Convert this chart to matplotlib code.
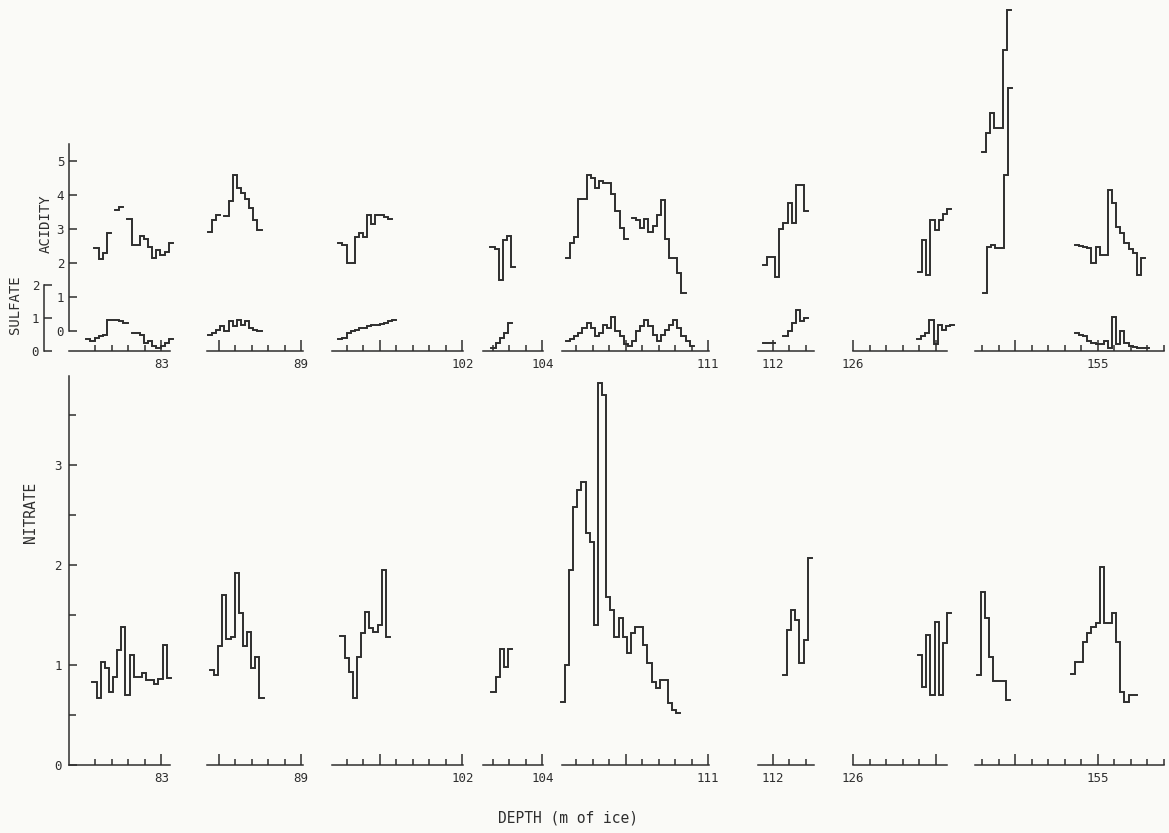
import numpy as np
import matplotlib
matplotlib.use("Agg")
import matplotlib.pyplot as plt
from matplotlib.ticker import FixedLocator, FixedFormatter, NullLocator

# ---------------- data ----------------
STEP = 0.025  # sample spacing along the core (m)

seg_labels = ["83", "89", "102", "104", "111", "112", "126", "155"]
seg_label_depth = [83.0, 89.0, 102.0, 104.0, 111.0, 112.0, 126.0, 155.0]
seg_start = [82.44, 88.43, 101.21, 103.64, 110.115, 111.91, 126.0, 154.255]
seg_end = [83.055, 89.01, 102.003, 104.003, 111.003, 112.25, 126.57, 155.4]
tick_first = [82.6, 88.5, 101.3, 103.7, 110.2, 112.0, 126.0, 154.3]
tick_last = [83.0, 89.0, 102.0, 104.0, 111.0, 112.2, 126.5, 155.4]

nan = np.nan

# nitrate (bottom panel)
nit_83_start, nit_83 = 82.582, [0.83, 0.67, 1.03, 0.97, 0.73, 0.88, 1.15, 1.38, 0.70, 1.10,
                                0.88, 0.88, 0.92, 0.85, 0.85, 0.81, 0.86, 1.20, 0.87]
nit_89_start, nit_89 = 88.448, [0.95, 0.90, 1.19, 1.70, 1.26, 1.28, 1.92, 1.52, 1.19, 1.33,
                                0.97, 1.08, 0.67]
nit_102_start, nit_102 = 101.261, [1.29, 1.07, 0.93, 0.67, 1.08, 1.32, 1.53, 1.37, 1.33, 1.40,
                                   1.95, 1.28]
nit_104_start, nit_104 = 103.691, [0.73, 0.88, 1.16, 0.98, 1.16]
nit_111_start, nit_111 = 110.108, [0.63, 1.00, 1.95, 2.58, 2.75, 2.83, 2.32, 2.23, 1.40, 3.82,
                                   3.70, 1.68, 1.55, 1.28, 1.47, 1.28, 1.12, 1.32, 1.38, 1.38,
                                   1.20, 1.02, 0.83, 0.77, 0.85, 0.85, 0.62, 0.55, 0.52]
nit_112_start, nit_112 = 112.061, [0.90, 1.35, 1.55, 1.45, 1.02, 1.25, 2.07]
nit_126_start, nit_126 = 126.394, [1.10, 0.78, 1.30, 0.70, 1.43, 0.70, 1.22, 1.52]
nit_155a_start, nit_155a = 154.267, [0.90, 1.73, 1.47, 1.08, 0.84, 0.84, 0.84, 0.65]
nit_155b_start, nit_155b = 154.836, [0.91, 1.03, 1.03, 1.23, 1.32, 1.38, 1.42, 1.98, 1.42,
                                     1.42, 1.52, 1.23, 0.73, 0.63, 0.70, 0.70]

# acidity (top panel)
acid_83_start, acid_83 = 82.594, [2.45, 2.12, 2.30, 2.87, nan, 3.55, 3.65, nan, 3.30, 2.52,
                                  2.52, 2.78, 2.72, 2.47, 2.14, 2.38, 2.23, 2.32, 2.58]
acid_89_start, acid_89 = 88.436, [2.90, 3.25, 3.42, nan, 3.39, 3.83, 4.60, 4.20, 4.06, 3.88,
                                  3.62, 3.25, 2.96]
acid_102_start, acid_102 = 101.248, [2.58, 2.52, 2.00, 2.00, 2.75, 2.87, 2.75, 3.42, 3.16, 3.42,
                                     3.40, 3.36, 3.30]
acid_104_start, acid_104 = 103.685, [2.47, 2.40, 1.50, 2.67, 2.80, 1.88]
acid_111_start, acid_111 = 110.139, [2.14, 2.58, 2.75, 3.88, 3.88, 4.60, 4.50, 4.20, 4.40, 4.35,
                                     4.35, 4.03, 3.54, 3.04, 2.72, nan, 3.33, 3.25, 3.04, 3.30,
                                     2.90, 3.10, 3.40, 3.85, 2.72, 2.14, 2.14, 1.70, 1.13]
acid_112_start, acid_112 = 111.939, [1.94, 2.17, 2.17, 1.60, 3.00, 3.19, 3.77, 3.19, 4.30, 4.30,
                                     3.54]
acid_126_start, acid_126 = 126.394, [1.74, 2.67, 1.65, 3.25, 2.96, 3.25, 3.45, 3.59]
acid_155a_start, acid_155a = 154.297, [5.27, 5.82, 6.41, 5.97, 5.97, 8.26, 9.44]
acid_155b_start, acid_155b = 154.303, [1.11, 2.48, 2.53, 2.43, 2.43, 4.59, 7.14]
acid_155c_start, acid_155c = 154.861, [2.53, 2.50, 2.47, 2.43, 2.00, 2.48, 2.24, 2.24, 4.15,
                                       3.76, 3.06, 2.87, 2.60, 2.40, 2.30, 1.66, 2.15]

# sulfate (top panel, lower scale)
sulf_83_start, sulf_83 = 82.545, [0.35, 0.30, 0.40, 0.45, 0.50, 0.94, 0.94, 0.94, 0.90, 0.85,
                                  nan, 0.55, 0.55, 0.50, 0.25, 0.30, 0.15, 0.10, 0.15, 0.25, 0.35]
sulf_89_start, sulf_89 = 88.436, [0.50, 0.55, 0.65, 0.75, 0.60, 0.90, 0.75, 0.95, 0.80, 0.90,
                                  0.70, 0.65, 0.60]
sulf_102_start, sulf_102 = 101.248, [0.35, 0.40, 0.55, 0.60, 0.65, 0.70, 0.70, 0.75, 0.80, 0.78,
                                     0.82, 0.85, 0.90, 0.95]
sulf_104_start, sulf_104 = 103.691, [0.10, 0.25, 0.40, 0.55, 0.85]
sulf_111_start, sulf_111 = 110.139, [0.30, 0.35, 0.45, 0.55, 0.70, 0.85, 0.70, 0.45, 0.55, 0.80,
                                     0.70, 1.03, 0.60, 0.45, 0.20, 0.15, 0.30, 0.60, 0.75, 0.95,
                                     0.75, 0.50, 0.30, 0.50, 0.65, 0.80, 0.95, 0.70, 0.45, 0.30,
                                     0.15]
sulf_112_start, sulf_112 = 111.939, [0.25, 0.25, 0.25, nan, nan, 0.45, 0.60, 0.85, 1.24, 0.90,
                                     1.00]
sulf_126_start, sulf_126 = 126.388, [0.35, 0.45, 0.55, 0.95, 0.20, 0.80, 0.65, 0.75, 0.80]
sulf_155_start, sulf_155 = 154.861, [0.55, 0.50, 0.45, 0.30, 0.25, 0.20, 0.20, 0.30, 0.10, 1.03,
                                     0.20, 0.60, 0.25, 0.15, 0.12, 0.10, 0.10, 0.08]

nitrate_traces = [(0, nit_83_start, nit_83), (1, nit_89_start, nit_89),
                  (2, nit_102_start, nit_102), (3, nit_104_start, nit_104),
                  (4, nit_111_start, nit_111), (5, nit_112_start, nit_112),
                  (6, nit_126_start, nit_126), (7, nit_155a_start, nit_155a),
                  (7, nit_155b_start, nit_155b)]
acid_traces = [(0, acid_83_start, acid_83), (1, acid_89_start, acid_89),
               (2, acid_102_start, acid_102), (3, acid_104_start, acid_104),
               (4, acid_111_start, acid_111), (5, acid_112_start, acid_112),
               (6, acid_126_start, acid_126), (7, acid_155a_start, acid_155a),
               (7, acid_155b_start, acid_155b), (7, acid_155c_start, acid_155c)]
sulf_traces = [(0, sulf_83_start, sulf_83), (1, sulf_89_start, sulf_89),
               (2, sulf_102_start, sulf_102), (3, sulf_104_start, sulf_104),
               (4, sulf_111_start, sulf_111), (5, sulf_112_start, sulf_112),
               (6, sulf_126_start, sulf_126), (7, sulf_155_start, sulf_155)]

# ---------------- layout / style ----------------
W, H = 1169, 833
BG = "#fafaf7"
INK = "#2e2e2e"
FONT = "DejaVu Sans Mono"
PX_PER_M = 165.0
seg_left_px = [69, 207, 332, 483, 562, 758, 853, 975]

BOT_TOP, BOT_BASE = 376, 765        # nitrate panel, px
NIT_PX = 100.0                      # px per nitrate unit
TOP_TOP, TOP_BASE = 5, 351          # acidity / sulfate panel, px
ACID_ZERO, ACID_PX = 331, 34.0
SULF_PX = 33.0

plt.rcParams["font.family"] = [FONT, "DejaVu Sans"]
fig = plt.figure(figsize=(W / 100, H / 100), dpi=100, facecolor=BG)


def box(x0, y_top, y_base, width_px):
    return [x0 / W, 1 - y_base / H, width_px / W, (y_base - y_top) / H]


def style_depth(ax, i):
    ax.set_xlim(seg_start[i], seg_end[i])
    for s in ["top", "right", "left"]:
        ax.spines[s].set_visible(False)
    ax.spines["bottom"].set_color(INK)
    ax.spines["bottom"].set_linewidth(1.1)
    ticks = np.round(np.arange(tick_first[i], tick_last[i] + 1e-6, 0.1), 2)
    tall = [t for t in ticks if abs(t * 2 - round(t * 2)) < 1e-6]
    short = [t for t in ticks if t not in tall]
    ax.xaxis.set_major_locator(FixedLocator(tall))
    ax.xaxis.set_major_formatter(FixedFormatter(
        [seg_labels[i] if abs(t - seg_label_depth[i]) < 1e-6 else "" for t in tall]))
    ax.xaxis.set_minor_locator(FixedLocator(short))
    ax.tick_params(axis="x", which="major", direction="in", length=8, width=1.1,
                   color=INK, labelsize=9, labelcolor=INK, pad=5)
    ax.tick_params(axis="x", which="minor", direction="in", length=4, width=1.1, color=INK)
    ax.patch.set_visible(False)


def draw_steps(ax, start, vals):
    v = np.asarray(vals, dtype=float)
    edges = start + STEP * np.arange(len(v) + 1)
    ax.step(edges, np.append(v, v[-1]), where="post", color=INK, lw=1.4,
            clip_on=False, solid_joinstyle="miter")


# ---- bottom panel: nitrate ----
nit_axes = []
for i in range(len(seg_labels)):
    wpx = (seg_end[i] - seg_start[i]) * PX_PER_M
    ax = fig.add_axes(box(seg_left_px[i], BOT_TOP, BOT_BASE, wpx))
    ax.set_ylim(0, (BOT_BASE - BOT_TOP) / NIT_PX)
    style_depth(ax, i)
    ax.yaxis.set_major_locator(NullLocator())
    ax.yaxis.set_minor_locator(NullLocator())
    nit_axes.append(ax)

ax0 = nit_axes[0]
ax0.spines["left"].set_visible(True)
ax0.spines["left"].set_color(INK)
ax0.spines["left"].set_linewidth(1.1)
ax0.yaxis.set_major_locator(FixedLocator([0, 1, 2, 3]))
ax0.yaxis.set_major_formatter(FixedFormatter(["0", "1", "2", "3"]))
ax0.yaxis.set_minor_locator(FixedLocator([0.5, 1.5, 2.5, 3.5]))
ax0.tick_params(axis="y", which="major", direction="in", length=6, width=1.1,
                color=INK, labelsize=9, labelcolor=INK, pad=5)
ax0.tick_params(axis="y", which="minor", direction="in", length=5, width=1.1, color=INK)

for seg, start, vals in nitrate_traces:
    draw_steps(nit_axes[seg], start, vals)

# ---- top panel: acidity + sulfate ----
acid_axes, sulf_axes = [], []
for i in range(len(seg_labels)):
    wpx = (seg_end[i] - seg_start[i]) * PX_PER_M
    ax = fig.add_axes(box(seg_left_px[i], TOP_TOP, TOP_BASE, wpx))
    ax.set_ylim((ACID_ZERO - TOP_BASE) / ACID_PX, (ACID_ZERO - TOP_TOP) / ACID_PX)
    style_depth(ax, i)
    ax.yaxis.set_major_locator(NullLocator())
    ax.yaxis.set_minor_locator(NullLocator())
    sx = ax.twinx()
    sx.set_ylim(0, (TOP_BASE - TOP_TOP) / SULF_PX)
    for s in ["top", "right", "left", "bottom"]:
        sx.spines[s].set_visible(False)
    sx.yaxis.set_major_locator(NullLocator())
    sx.yaxis.set_minor_locator(NullLocator())
    sx.patch.set_visible(False)
    acid_axes.append(ax)
    sulf_axes.append(sx)

a0 = acid_axes[0]
a0.spines["left"].set_visible(True)
a0.spines["left"].set_color(INK)
a0.spines["left"].set_linewidth(1.1)
a0.spines["left"].set_bounds(0, 5.5)
a0.yaxis.set_major_locator(FixedLocator([0, 1, 2, 3, 4, 5]))
a0.yaxis.set_major_formatter(FixedFormatter(["0", "1", "2", "3", "4", "5"]))
a0.tick_params(axis="y", which="major", direction="in", length=6, width=1.1,
               color=INK, labelsize=9, labelcolor=INK, pad=3.5)

s0 = sulf_axes[0]
s0.yaxis.set_ticks_position("left")
s0.spines["left"].set_visible(True)
s0.spines["left"].set_color(INK)
s0.spines["left"].set_linewidth(1.1)
s0.spines["left"].set_position(("outward", 18))
s0.spines["left"].set_bounds(0, 2)
s0.yaxis.set_major_locator(FixedLocator([0, 1, 2]))
s0.yaxis.set_major_formatter(FixedFormatter(["0", "1", "2"]))
s0.tick_params(axis="y", which="major", direction="in", length=6, width=1.1,
               color=INK, labelsize=9, labelcolor=INK, pad=3.5, left=True, right=False,
               labelleft=True, labelright=False)

for seg, start, vals in acid_traces:
    draw_steps(acid_axes[seg], start, vals)
for seg, start, vals in sulf_traces:
    draw_steps(sulf_axes[seg], start, vals)

# ---- axis titles ----
fig.text(46 / W, 1 - 224 / H, "ACIDITY", rotation=90, ha="center", va="center",
         fontsize=10, color=INK)
fig.text(15 / W, 1 - 305 / H, "SULFATE", rotation=90, ha="center", va="center",
         fontsize=10, color=INK)
fig.text(30 / W, 1 - 512 / H, "NITRATE", rotation=90, ha="center", va="center",
         fontsize=10.5, color=INK)
fig.text(568 / W, 1 - 818 / H, "DEPTH (m of ice)", ha="center", va="center",
         fontsize=10.5, color=INK)

fig.savefig("out.png", dpi=100, facecolor=BG)
